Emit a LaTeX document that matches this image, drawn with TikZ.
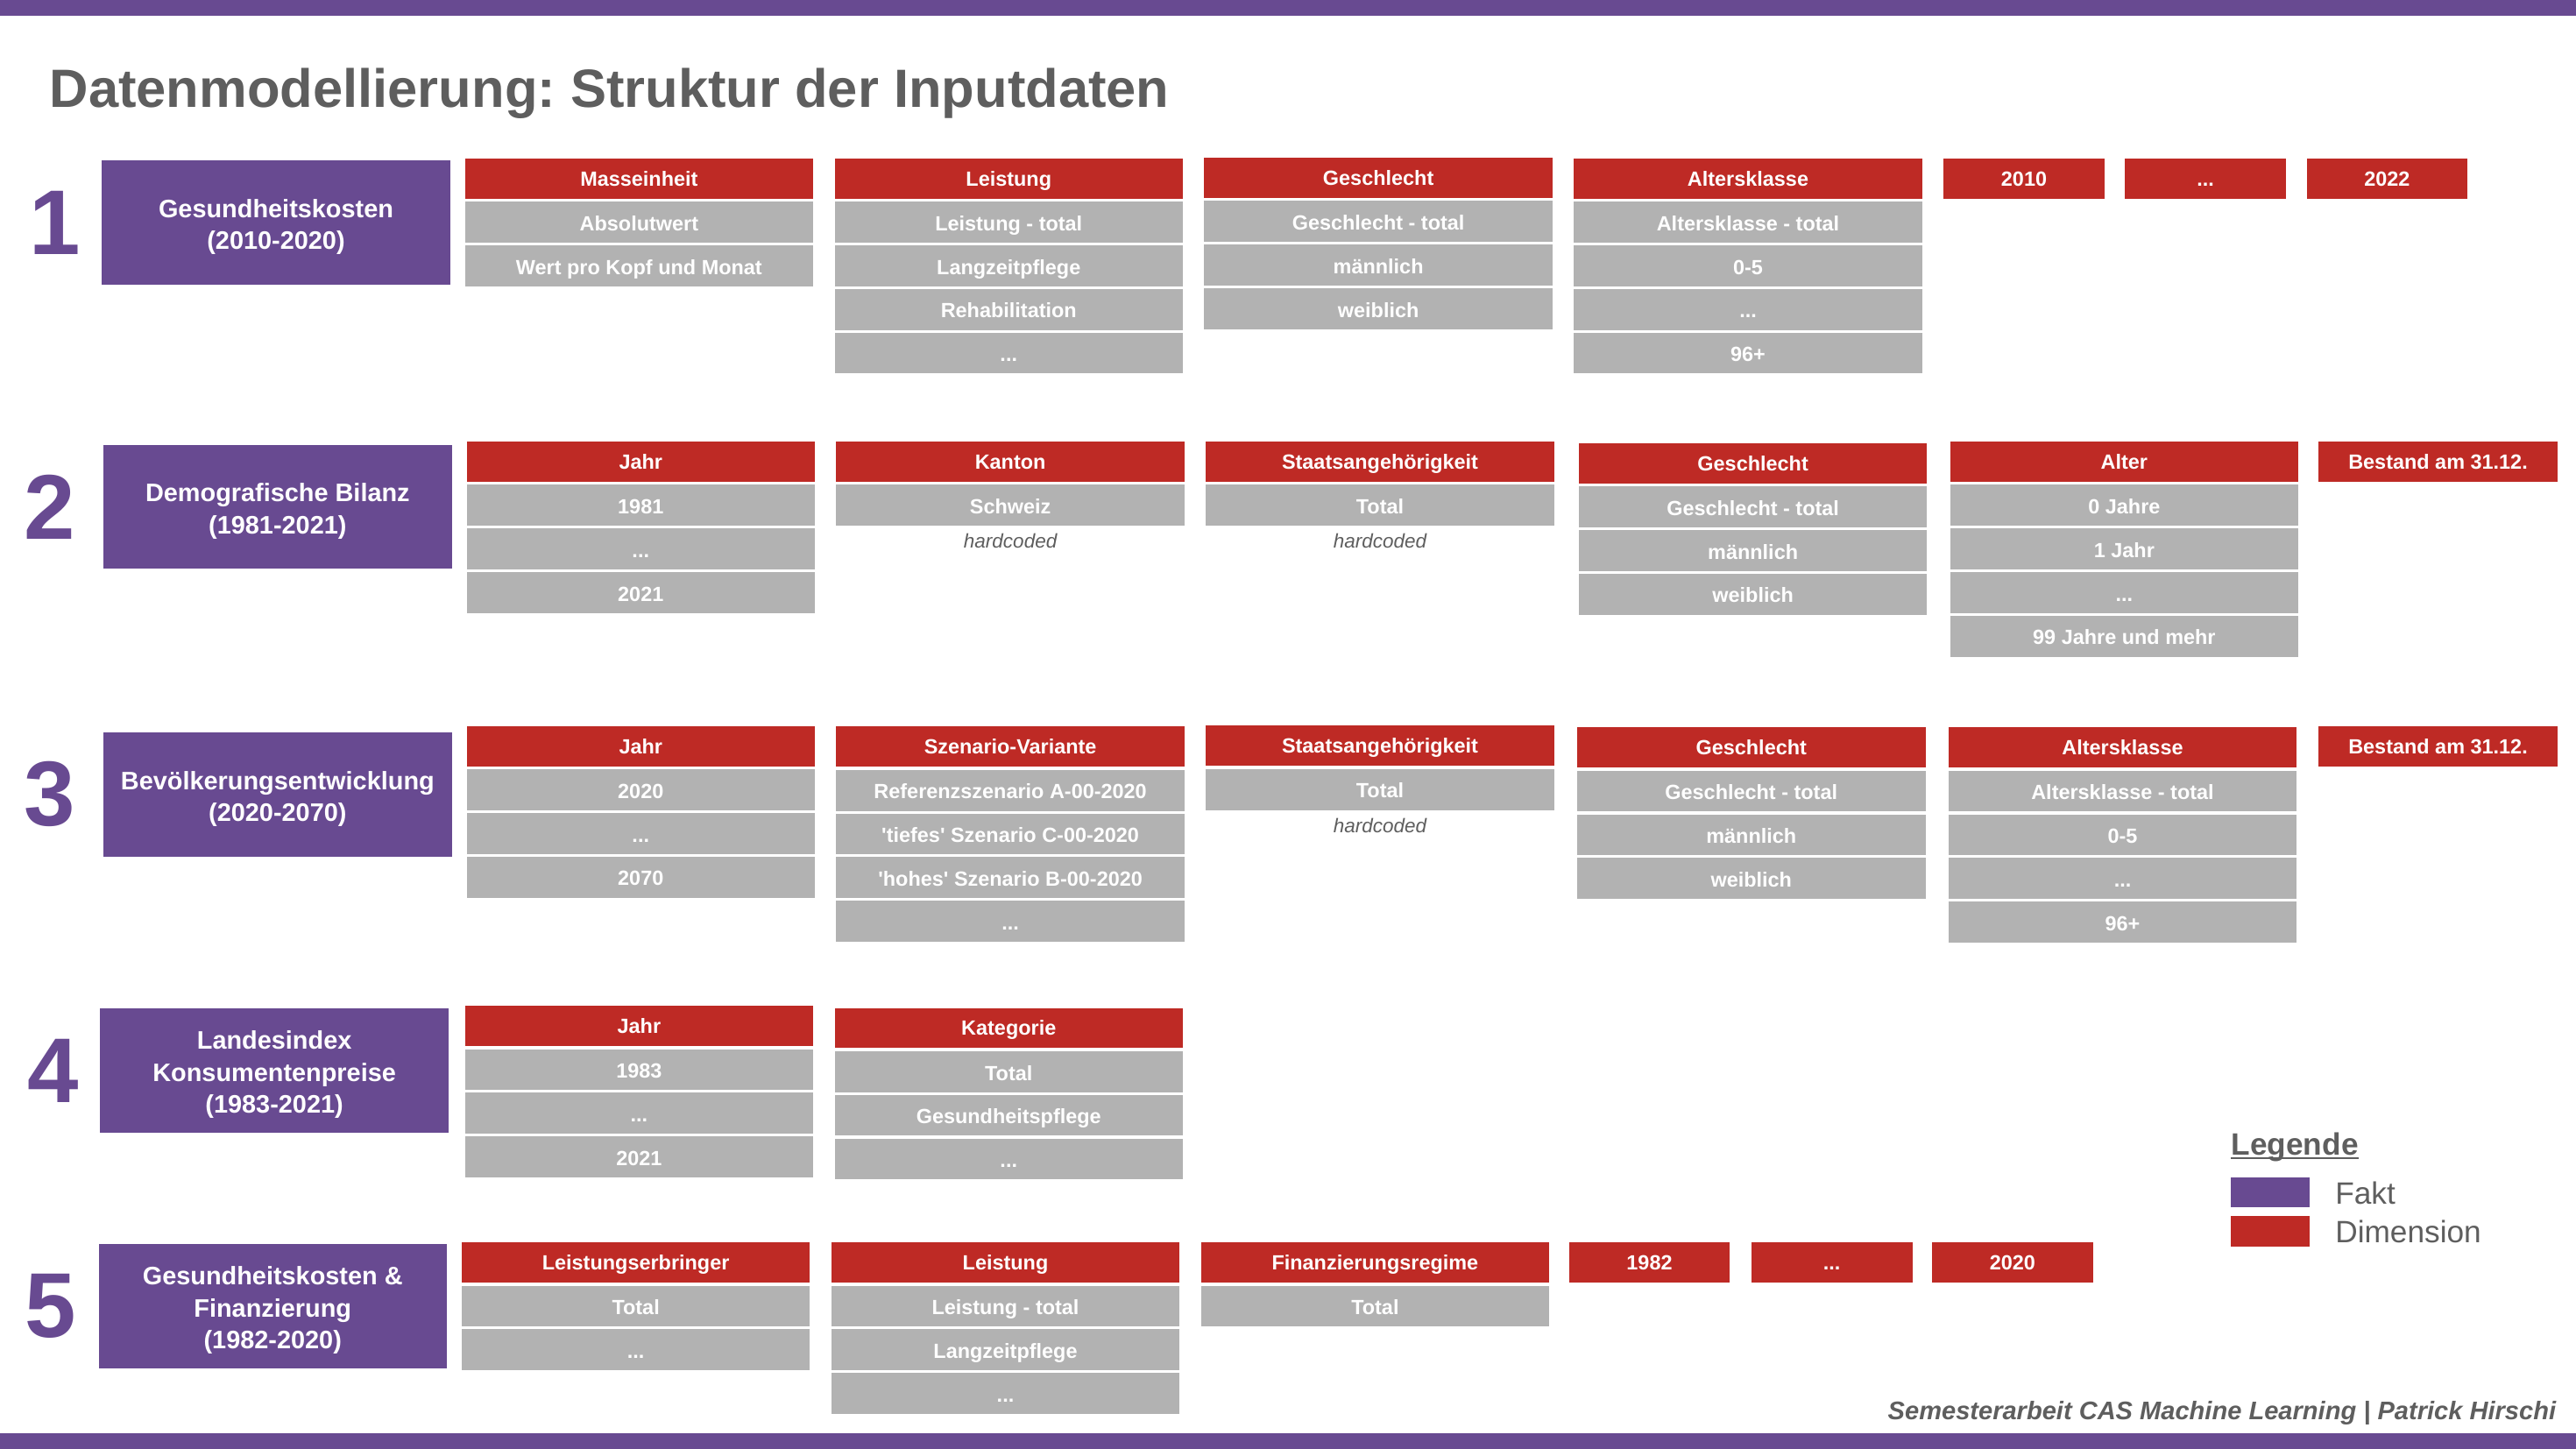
\documentclass[tikz,border=0pt]{standalone}
\usepackage{fontspec}
\setmainfont{Liberation Sans}
\frenchspacing
\definecolor{faktc}{HTML}{684A91}
\definecolor{dimc}{HTML}{BE2A25}
\definecolor{cellc}{HTML}{B2B2B2}
\definecolor{txtc}{HTML}{5E5E5E}
\newcommand\ddd{...}
\newcommand\fstrut{\rule{0pt}{16.4pt}}
\tikzset{
  cellbase/.style={anchor=north west, inner sep=0pt, outer sep=0pt, text=white,
    font=\bfseries\fontsize{12.5}{14}\selectfont, text height=8.9pt, text depth=0pt, minimum height=24.5pt},
  dimbox/.style={cellbase, fill=dimc},
  valbox/.style={cellbase, fill=cellc, text height=10.3pt, minimum height=24.9pt},
  faktbox/.style={anchor=north west, inner sep=0pt, outer sep=0pt, fill=faktc, text=white,
    minimum width=212pt, minimum height=75.5pt, align=center,
    font=\bfseries\fontsize{15.4}{19.5}\selectfont},
  numlabel/.style={text=faktc, font=\bfseries\fontsize{56}{60}\selectfont, inner sep=0pt},
  hardnote/.style={text=txtc, font=\itshape\fontsize{12}{14}\selectfont, inner sep=0pt, anchor=base},
  legtext/.style={text=txtc, font=\fontsize{18.8}{22}\selectfont, inner sep=0pt, anchor=base west},
}
\newcommand\mkcol[6]{%
  \node[dimbox, minimum width=#4pt] (#1-0) at (#2,#3) {#5};
  \foreach \v [count=\i] in {#6} {
    \node[valbox, minimum width=#4pt] (#1-\i) at (#2,#3+1.9+\i*26.55-26.55+24.5) {\v};
  }%
}
\newcommand\mkhead[5]{%
  \node[dimbox, minimum width=#4pt] (#1) at (#2,#3) {#5};%
}
\begin{document}
\begin{tikzpicture}[x=1pt,y=-1pt]
\useasboundingbox (0,0) rectangle (1568,882);
% bars
\fill[faktc] (0,0) rectangle (1568,9.4);
\fill[faktc] (0,872.4) rectangle (1568,882);
% title
\node[anchor=base west, inner sep=0pt, text=txtc, font=\bfseries\fontsize{32.8}{36}\selectfont] (title) at (30,65.4) {Datenmodellierung: Struktur der Inputdaten};

% ===== Row 1 =====
\node[numlabel] (n1) at (33.5,135.6) {1};
\node[faktbox] (f1) at (62,97.8) {\fstrut Gesundheitskosten\\(2010-2020)};
\mkcol{a1}{283}{96.5}{212}{Masseinheit}{Absolutwert,Wert pro Kopf und Monat}
\mkcol{a2}{508}{96.5}{212}{Leistung}{Leistung - total,Langzeitpflege,Rehabilitation,\ddd}
\mkcol{a3}{733}{96}{212}{Geschlecht}{Geschlecht - total,männlich,weiblich}
\mkcol{a4}{958}{96.5}{212}{Altersklasse}{Altersklasse - total,0-5,\ddd,96+}
\mkhead{a5}{1183}{96.5}{98}{2010}
\mkhead{a6}{1293.5}{96.5}{98}{\ddd}
\mkhead{a7}{1404}{96.5}{98}{2022}

% ===== Row 2 =====
\node[numlabel] (n2) at (30,308.6) {2};
\node[faktbox] (f2) at (63,270.9) {\fstrut Demografische Bilanz\\(1981-2021)};
\mkcol{b1}{284}{268.8}{212}{Jahr}{1981,\ddd,2021}
\mkcol{b2}{509}{268.8}{212}{Kanton}{Schweiz}
\mkcol{b3}{734}{268.8}{212}{Staatsangehörigkeit}{Total}
\mkcol{b4}{961}{269.8}{212}{Geschlecht}{Geschlecht - total,männlich,weiblich}
\mkcol{b5}{1187}{268.8}{212}{Alter}{0 Jahre,1 Jahr,\ddd,99 Jahre und mehr}
\mkhead{b6}{1411}{268.8}{146}{Bestand am 31.12.}
\node[hardnote] (h2a) at ([yshift=-13.6pt]b2-1.south) {hardcoded};
\node[hardnote] (h2b) at ([yshift=-13.6pt]b3-1.south) {hardcoded};

% ===== Row 3 =====
\node[numlabel] (n3) at (30,483.6) {3};
\node[faktbox] (f3) at (63,446) {\fstrut Bevölkerungsentwicklung\\(2020-2070)};
\mkcol{c1}{284}{442}{212}{Jahr}{2020,\ddd,2070}
\mkcol{c2}{509}{442.3}{212}{Szenario-Variante}{Referenzszenario A-00-2020,\textquotesingle tiefes\textquotesingle{} Szenario C-00-2020,\textquotesingle hohes\textquotesingle{} Szenario B-00-2020,\ddd}
\mkcol{c3}{734}{441.8}{212}{Staatsangehörigkeit}{Total}
\mkcol{c4}{960}{442.8}{212}{Geschlecht}{Geschlecht - total,männlich,weiblich}
\mkcol{c5}{1186}{442.8}{212}{Altersklasse}{Altersklasse - total,0-5,\ddd,96+}
\mkhead{c6}{1411}{442.3}{146}{Bestand am 31.12.}
\node[hardnote] (h3) at ([yshift=-13.6pt]c3-1.south) {hardcoded};

% ===== Row 4 =====
\node[numlabel] (n4) at (32.5,652) {4};
\node[faktbox] (f4) at (61,613.9) {\fstrut Landesindex\\Konsumentenpreise\\(1983-2021)};
\mkcol{d1}{283}{612.3}{212}{Jahr}{1983,\ddd,2021}
\mkcol{d2}{508}{613.6}{212}{Kategorie}{Total,Gesundheitspflege,\ddd}

% ===== Row 5 =====
\node[numlabel] (n5) at (31,795.4) {5};
\node[faktbox] (f5) at (60,757.3) {\fstrut Gesundheitskosten \&\\Finanzierung\\(1982-2020)};
\mkcol{e1}{281}{756.3}{212}{Leistungserbringer}{Total,\ddd}
\mkcol{e2}{506}{756.3}{212}{Leistung}{Leistung - total,Langzeitpflege,\ddd}
\mkcol{e3}{731}{756.3}{212}{Finanzierungsregime}{Total}
\mkhead{e4}{955}{756.3}{98}{1982}
\mkhead{e5}{1066}{756.3}{98}{\ddd}
\mkhead{e6}{1176}{756.3}{98}{2020}

% ===== Legend =====
\node[anchor=base west, inner sep=0pt, text=txtc, font=\bfseries\fontsize{18.8}{22}\selectfont] (leg) at (1358,703) {Legende};
\draw[txtc, line width=1.2pt] ([yshift=-1.9pt]leg.base west) -- ([yshift=-1.9pt]leg.base east);
\node[anchor=north west, fill=faktc, minimum width=47.7pt, minimum height=17.8pt, inner sep=0pt, outer sep=0pt] (lf) at (1358,717) {};
\node[anchor=north west, fill=dimc, minimum width=47.7pt, minimum height=18.5pt, inner sep=0pt, outer sep=0pt] (ld) at (1358,740.3) {};
\node[legtext] (lft) at (1421.3,732.8) {Fakt};
\node[legtext] (ldt) at (1421.3,756.4) {Dimension};

% ===== Footer =====
\node[anchor=base east, inner sep=0pt, text=txtc, font=\bfseries\itshape\fontsize{15.5}{18}\selectfont] (foot) at (1556,864) {Semesterarbeit CAS Machine Learning | Patrick Hirschi};
\end{tikzpicture}
\end{document}
